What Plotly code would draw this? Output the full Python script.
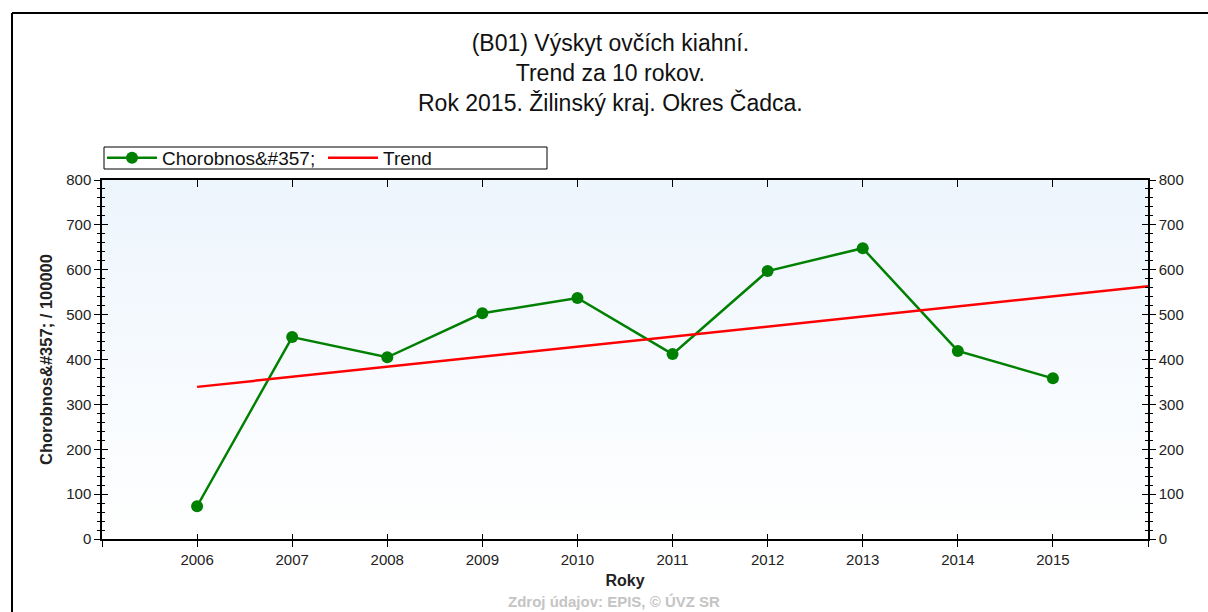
import base64
import plotly.graph_objects as go

# data
years = [2006, 2007, 2008, 2009, 2010, 2011, 2012, 2013, 2014, 2015]
chorobnost = [73, 450, 405, 503, 537, 412, 597, 648, 419, 358]
trend_x = [2006, 2016]
trend_y = [339, 563]
x_ticks = [2005, 2006, 2007, 2008, 2009, 2010, 2011, 2012, 2013, 2014, 2015, 2016]
x_labels = ["", "2006", "2007", "2008", "2009", "2010", "2011", "2012", "2013", "2014", "2015", ""]
y_ticks = [0, 100, 200, 300, 400, 500, 600, 700, 800]
title_lines = ["(B01) Výskyt ovčích kiahní.", "Trend za 10 rokov.", "Rok 2015. Žilinský kraj. Okres Čadca."]

FONT = "Liberation Sans, Arial, sans-serif"
GREEN = "#008000"
RED = "#FF0000"

# body margin is removed below, so page pixels == figure pixels
L, R, T, B = 102, 60, 180, 73
PW, PH = 1208 - L - R, 612 - T - B


def px(xp):
    return (xp - L) / PW


def py(yp):
    return (612 - B - yp) / PH


# light blue -> white gradient behind the plot area
svg = ('<svg xmlns="http://www.w3.org/2000/svg" width="100" height="100" preserveAspectRatio="none">'
       '<defs><linearGradient id="g" x1="0" y1="0" x2="0" y2="1">'
       '<stop offset="0" stop-color="#EDF5FD"/><stop offset="1" stop-color="#FFFFFF"/>'
       '</linearGradient></defs><rect width="100" height="100" fill="url(#g)"/></svg>')
bg = "data:image/svg+xml;base64," + base64.b64encode(svg.encode()).decode()

fig = go.Figure()

fig.add_trace(go.Scatter(
    x=years, y=chorobnost, name="Chorobnos&amp;#357;", mode="lines+markers",
    line=dict(color=GREEN, width=2.5),
    marker=dict(color=GREEN, size=12, symbol="circle"),
))
fig.add_trace(go.Scatter(
    x=trend_x, y=trend_y, name="Trend", mode="lines",
    line=dict(color=RED, width=2.5),
))

# invisible traces so the helper axes (inner halves of ticks) get drawn
fig.add_trace(go.Scatter(x=[None], y=[None], xaxis="x2", yaxis="y3", showlegend=False, hoverinfo="skip"))
fig.add_trace(go.Scatter(x=[None], y=[None], xaxis="x3", yaxis="y4", showlegend=False, hoverinfo="skip"))
fig.add_trace(go.Scatter(x=[None], y=[None], xaxis="x", yaxis="y2", showlegend=False, hoverinfo="skip"))

tickfont = dict(family=FONT, size=15, color="#222222")
xr = [2005, 2016]
yr = [0, 800]

annotations = [
    dict(text="<br>".join(title_lines), xref="paper", yref="paper", x=px(610), y=py(73),
         xanchor="center", yanchor="middle", showarrow=False,
         font=dict(family=FONT, size=23, color="#111111")),
    dict(text="<b>Zdroj údajov: EPIS, © ÚVZ SR</b>", xref="paper", yref="paper",
         x=px(614), y=py(601), xanchor="center", yanchor="middle",
         showarrow=False, font=dict(family=FONT, size=15, color="#C4C4C4")),
]

fig.update_layout(
    width=1208, height=612,
    paper_bgcolor="white", plot_bgcolor="rgba(0,0,0,0)",
    margin=dict(l=L, r=R, t=T, b=B),
    font=dict(family=FONT, color="#111111"),
    legend=dict(
        orientation="h", x=px(102), y=py(139), xanchor="left", yanchor="top",
        bgcolor="rgba(0,0,0,0)", borderwidth=0,
        font=dict(family=FONT, size=19, color="#111111"),
        itemwidth=50, entrywidth=156, entrywidthmode="pixels",
        traceorder="normal",
    ),
    xaxis=dict(
        range=xr, tickvals=x_ticks, ticktext=x_labels, tickfont=tickfont,
        ticks="outside", ticklen=6, tickcolor="black", tickwidth=1,
        showline=True, linecolor="black", linewidth=2, showgrid=False, zeroline=False,
        title=dict(text="<b>Roky</b>", font=dict(family=FONT, size=16, color="#222222"), standoff=8),
    ),
    xaxis2=dict(
        range=xr, tickvals=x_ticks, overlaying="x", anchor="y", side="bottom",
        ticks="inside", ticklen=5, tickcolor="black", showticklabels=False,
        showline=False, showgrid=False, zeroline=False,
    ),
    xaxis3=dict(
        range=xr, tickvals=x_ticks, overlaying="x", anchor="y", side="top",
        ticks="inside", ticklen=7, tickcolor="black", showticklabels=False,
        showline=True, linecolor="black", linewidth=2, showgrid=False, zeroline=False,
    ),
    yaxis=dict(
        range=yr, tickvals=y_ticks, tickfont=tickfont,
        ticks="outside", ticklen=6, tickcolor="black",
        minor=dict(ticks="outside", ticklen=3, dtick=20, tickcolor="black"),
        showline=True, linecolor="black", linewidth=1.5, showgrid=False, zeroline=False,
        title=dict(text="<b>Chorobnos&amp;#357; / 100000</b>",
                   font=dict(family=FONT, size=16.5, color="#222222"), standoff=9),
    ),
    yaxis2=dict(
        range=yr, tickvals=y_ticks, tickfont=tickfont, overlaying="y", side="right", anchor="x",
        ticks="outside", ticklen=6, tickcolor="black",
        minor=dict(ticks="outside", ticklen=3, dtick=20, tickcolor="black"),
        showline=True, linecolor="black", linewidth=1.5, showgrid=False, zeroline=False,
    ),
    yaxis3=dict(
        range=yr, tickvals=y_ticks, overlaying="y", side="left", anchor="x2",
        ticks="inside", ticklen=6, tickcolor="black", showticklabels=False,
        minor=dict(ticks="inside", ticklen=3, dtick=20, tickcolor="black"),
        showline=False, showgrid=False, zeroline=False,
    ),
    yaxis4=dict(
        range=yr, tickvals=y_ticks, overlaying="y", side="right", anchor="x3",
        ticks="inside", ticklen=6, tickcolor="black", showticklabels=False,
        minor=dict(ticks="inside", ticklen=3, dtick=20, tickcolor="black"),
        showline=False, showgrid=False, zeroline=False,
    ),
    images=[dict(source=bg, xref="paper", yref="paper", x=0, y=1, sizex=1, sizey=1,
                 xanchor="left", yanchor="top", sizing="stretch", layer="below")],
    shapes=[
        # outer chart frame: only the top and left edges are in view
        dict(type="line", xref="paper", yref="paper",
             x0=px(12), x1=px(1400), y0=py(13), y1=py(13),
             line=dict(color="black", width=2), layer="below"),
        dict(type="line", xref="paper", yref="paper",
             x0=px(12), x1=px(12), y0=py(13), y1=py(800),
             line=dict(color="black", width=2), layer="below"),
        # legend box
        dict(type="rect", xref="paper", yref="paper",
             x0=px(104), x1=px(547), y0=py(169), y1=py(147),
             line=dict(color="black", width=1), fillcolor="white", layer="below"),
    ],
    annotations=annotations,
)

fig.write_html("out.html", config={"displayModeBar": False},
               post_script="document.body.style.margin='0';document.body.style.overflow='hidden';")
